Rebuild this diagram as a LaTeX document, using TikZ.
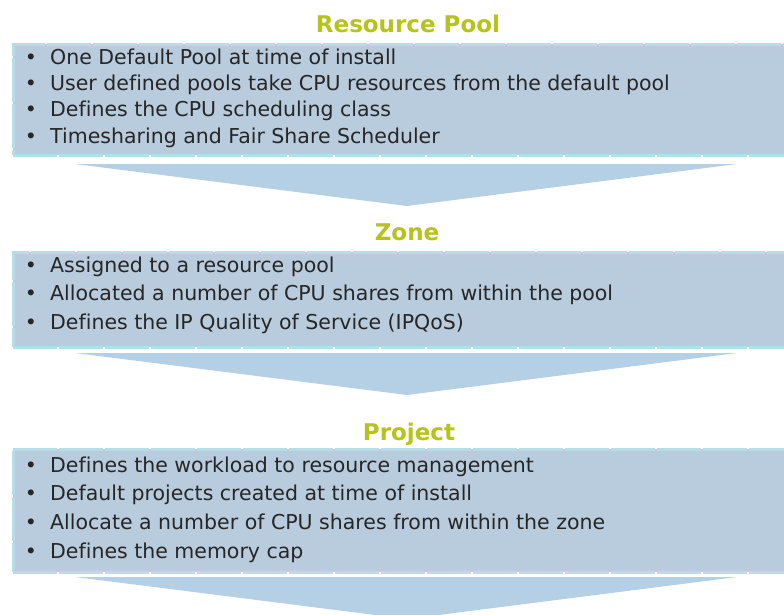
\documentclass[tikz,border=0pt]{standalone}
\usepackage{fontspec}
\setmainfont[Ligatures={NoCommon}]{DejaVu Sans}
\definecolor{boxfill}{HTML}{B9CCDD}
\definecolor{boxedge}{HTML}{B6DEE8}
\definecolor{flowfill}{HTML}{B5CFE5}
\definecolor{titlecol}{HTML}{B5C31B}
\definecolor{textcol}{HTML}{262626}
\begin{document}
\begin{tikzpicture}[x=1pt,y=-1pt,
  panel/.style={fill=boxfill, draw=boxedge, line width=3pt,
    dash pattern=on 44pt off 2pt, anchor=north west, inner sep=0pt,
    minimum width=788.5pt},
  heading/.style={font=\fontsize{23}{23}\selectfont\bfseries, text=titlecol,
    anchor=base, inner sep=0pt},
  item/.style={font=\fontsize{20.5}{20.5}\selectfont, text=textcol,
    anchor=base west, inner sep=0pt},
  dot/.style={font=\fontsize{20.5}{20.5}\selectfont, text=textcol,
    anchor=base, inner sep=0pt},
  flow/.style={fill=flowfill}]
\path[use as bounding box, clip] (0,0) rectangle (784,614);

% ---- Resource Pool ----
\node[heading] (tpool) at (408,32.7) {Resource Pool};
\node[panel, minimum height=111pt] (pool) at (11.5,42.5) {};
\node[dot] (pb1) at (31,64) {•};
\node[item] (p1) at (50,64) {One Default Pool at time of install};
\node[dot] (pb2) at (31,90.3) {•};
\node[item] (p2) at (50,90.3) {User defined pools take CPU resources from the default pool};
\node[dot] (pb3) at (31,116.7) {•};
\node[item] (p3) at (50,116.7) {Defines the CPU scheduling class};
\node[dot] (pb4) at (31,143.2) {•};
\node[item] (p4) at (50,143.2) {Timesharing and Fair Share Scheduler};
\path[flow] (75,164) -- (737,164) -- (407,206) -- cycle;

% ---- Zone ----
\node[heading] (tzone) at (407,240.7) {Zone};
\node[panel, minimum height=95pt] (zone) at (11.5,250.5) {};
\node[dot] (zb1) at (31,272) {•};
\node[item] (z1) at (50,272) {Assigned to a resource pool};
\node[dot] (zb2) at (31,300.5) {•};
\node[item] (z2) at (50,300.5) {Allocated a number of CPU shares from within the pool};
\node[dot] (zb3) at (31,329.3) {•};
\node[item] (z3) at (50,329.3) {Defines the IP Quality of Service (IPQoS)};
\path[flow] (75,353) -- (737,353) -- (407,395) -- cycle;

% ---- Project ----
\node[heading] (tproj) at (409,440.7) {Project};
\node[panel, minimum height=123pt] (proj) at (11.5,447.5) {};
\node[dot] (jb1) at (31,472) {•};
\node[item] (j1) at (50,472) {Defines the workload to resource management};
\node[dot] (jb2) at (31,500.7) {•};
\node[item] (j2) at (50,500.7) {Default projects created at time of install};
\node[dot] (jb3) at (31,529.3) {•};
\node[item] (j3) at (50,529.3) {Allocate a number of CPU shares from within the zone};
\node[dot] (jb4) at (31,558.3) {•};
\node[item] (j4) at (50,558.3) {Defines the memory cap};
\path[flow] (75,577) -- (737,577) -- (407,619) -- cycle;
\end{tikzpicture}
\end{document}
